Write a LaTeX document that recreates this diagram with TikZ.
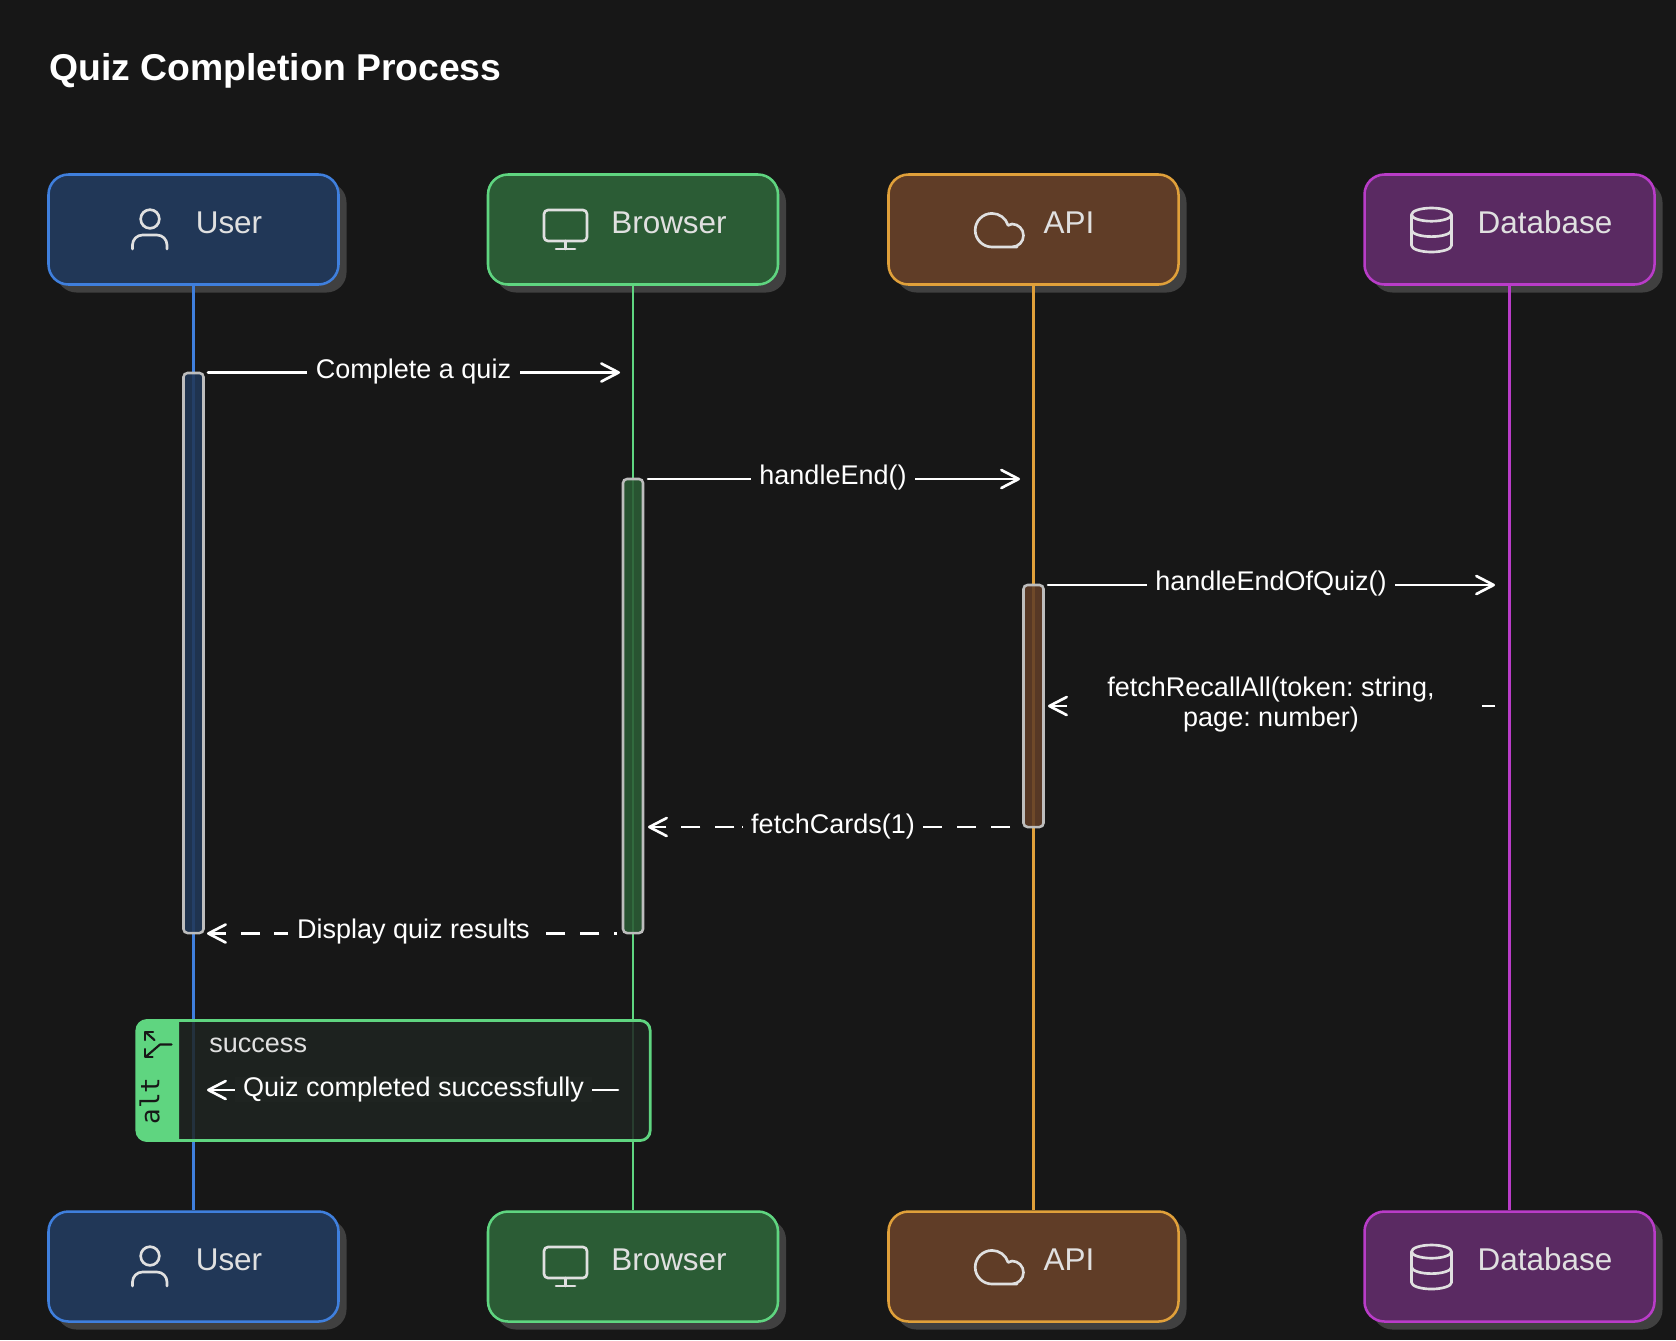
\documentclass[tikz,border=0pt]{standalone}
\usepackage{fontspec}
\setmainfont{Liberation Sans}
\newfontfamily\monofam{DejaVu Sans Mono}
\usetikzlibrary{arrows.meta}
\definecolor{bgc}{HTML}{171717}
\definecolor{shadowc}{HTML}{404040}
\definecolor{userfill}{HTML}{213757}
\definecolor{userline}{HTML}{3F7FDD}
\definecolor{browfill}{HTML}{2B5C35}
\definecolor{browline}{HTML}{5FD580}
\definecolor{apifill}{HTML}{603D27}
\definecolor{apiline}{HTML}{E0A03A}
\definecolor{dbfill}{HTML}{5A2A62}
\definecolor{dbline}{HTML}{B93CC8}
\definecolor{iconc}{HTML}{E0E0E0}
\definecolor{actc}{HTML}{BDBDBD}
\definecolor{altfill}{HTML}{1F2421}
\tikzset{
  actorbox/.style={draw=#1line,fill=#1fill,line width=1.9pt,rounded corners=15pt,
    minimum width=217.5pt,minimum height=82.5pt,inner sep=0pt},
  actorshadow/.style={fill=shadowc,rounded corners=15pt,minimum width=217.5pt,minimum height=82.5pt,inner sep=0pt},
  actortext/.style={anchor=base,text=iconc,inner sep=0pt,font=\fontsize{23.6pt}{26pt}\selectfont},
  lifeline/.style={draw=#1line,line width=2pt},
  actbox/.style={draw=actc,fill=#1fill,fill opacity=0.88,line width=1.9pt,rounded corners=3pt,minimum width=15pt,inner sep=0pt},
  msgline/.style={draw=white,line width=2pt,line cap=round},
  fwd/.style={msgline,-{Straight Barb[length=13pt,width=13.5pt,line width=2pt,round]}},
  msglabel/.style={anchor=base,text=white,inner sep=0pt,font=\fontsize{20.25pt}{22.5pt}\selectfont\frenchspacing},
  masklabel/.style={msglabel,fill=bgc,inner xsep=6.5pt},
  icon/.style={draw=iconc,line width=2pt,line cap=round,line join=round},
  alticon/.style={draw=bgc,line width=1.6pt,line cap=round,line join=round},
  usericon/.pic={
    \draw[icon] (150,219) circle [radius=7pt];
    \draw[icon] (132.5,249) -- (132.5,245) arc [start angle=180,end angle=90,radius=7.5pt] -- (157,235) arc [start angle=90,end angle=0,radius=7.5pt] -- (167,249);
  },
  browsericon/.pic={
    \draw[icon,rounded corners=3pt] (544,210) rectangle (587,241);
    \draw[icon] (565.5,241) -- (565.5,249) (556,249) -- (575,249);
  },
  cloudicon/.pic={
    \draw[icon] (1017,247) -- (992,247) arc [start angle=-90,end angle=-343.4,radius=12.6pt] -- (1012,224)
      arc [start angle=90,end angle=-90,radius=8.6pt] -- cycle;
  },
  dbicon/.pic={
    \draw[icon] (1431.5,214.6) ellipse [x radius=15pt,y radius=4.95pt];
    \draw[icon] (1411.5,214.6) -- (1411.5,245.4) arc [start angle=180,end angle=360,x radius=15pt,y radius=4.95pt] -- (1451.5,214.6);
    \draw[icon] (1411.5,230) arc [start angle=180,end angle=360,x radius=15pt,y radius=4.95pt];
  },
}
\begin{document}
\begin{tikzpicture}[x=0.75pt,y=-0.75pt]
\fill[bgc] (0,0) rectangle (1676,1340);
\useasboundingbox (0,0) rectangle (1676,1340);
\node[anchor=base west,inner sep=0pt,text=white,font=\bfseries\fontsize{28pt}{32pt}\selectfont] (title) at (49,80) {Quiz Completion Process};
% shadows
\foreach \cx in {193.5,633,1033.5,1509.5}{
  \node[actorshadow] at (\cx+8,237.5) {};
  \node[actorshadow] at (\cx+8,1274.5) {};
}
% actors
\node[actorbox=user] (utop) at (193.5,229.5) {};
\node[actorbox=brow] (btop) at (633,229.5) {};
\node[actorbox=api] (atop) at (1033.5,229.5) {};
\node[actorbox=db] (dtop) at (1509.5,229.5) {};
\node[actorbox=user] (ubot) at (193.5,1266.5) {};
\node[actorbox=brow] (bbot) at (633,1266.5) {};
\node[actorbox=api] (abot) at (1033.5,1266.5) {};
\node[actorbox=db] (dbot) at (1509.5,1266.5) {};
\foreach \dy/\tag in {0/t,1037/b}{
  \begin{scope}[yshift=-\dy*0.75pt]
    \pic {usericon}; \pic {browsericon}; \pic {cloudicon}; \pic {dbicon};
    \node[actortext] (ul\tag) at (229,233) {User};
    \node[actortext] (bl\tag) at (669,233) {Browser};
    \node[actortext] (al\tag) at (1069,233) {API};
    \node[actortext] (dl\tag) at (1545,233) {Database};
  \end{scope}
}
% lifelines
\draw[lifeline=user] (utop.south) -- (ubot.north);
\draw[lifeline=brow] (btop.south) -- (bbot.north);
\draw[lifeline=api] (atop.south) -- (abot.north);
\draw[lifeline=db] (dtop.south) -- (dbot.north);
% activations
\node[actbox=user,minimum height=420pt] (uact) at (193.5,653) {};
\node[actbox=brow,minimum height=340.5pt] (bact) at (633,706) {};
\node[actbox=api,minimum height=181.5pt] (aact) at (1033.5,706) {};
% alt
\node[draw=browline,fill=altfill,fill opacity=0.85,line width=2.1pt,rounded corners=7.5pt,minimum width=385pt,minimum height=90pt,inner sep=0pt] (altbox) at (393.5,1080.5) {};
\fill[browline] (179,1019.5) [rounded corners=7.5pt] -- (136.5,1019.5) -- (136.5,1141.5) [sharp corners] -- (179,1141.5) -- cycle;
\node[rotate=90,inner sep=0pt,text=bgc,font=\monofam\fontsize{19.5pt}{22pt}\selectfont] (alttext) at (149.5,1101) {alt};
\draw[alticon] (171.5,1044.5) -- (160,1044.5) -- (146,1056.5);
\draw[alticon] (154.5,1040) -- (146,1032.5);
\draw[alticon] (145,1049) -- (145,1057) -- (152.5,1057);
\draw[alticon] (153,1032) -- (145,1032) -- (145,1040);
\node[anchor=base west,inner sep=0pt,text=iconc,font=\fontsize{20.3pt}{24pt}\selectfont] (succ) at (209,1052) {success};
% messages
\coordinate (m1a) at (208,372.5); \coordinate (m1b) at (620,372.5);
\draw[fwd] (m1a) -- (m1b);
\node[masklabel] (m1l) at (413.5,378) {Complete a quiz};
\coordinate (m2a) at (648,479); \coordinate (m2b) at (1020,479);
\draw[fwd] (m2a) -- (m2b);
\node[masklabel] (m2l) at (833,484.5) {handleEnd()};
\coordinate (m3a) at (1048,585); \coordinate (m3b) at (1495,585);
\draw[fwd] (m3a) -- (m3b);
\node[masklabel] (m3l) at (1271,590.5) {handleEndOfQuiz()};
\coordinate (m4a) at (1495,706); \coordinate (m4b) at (1048,706);
\draw[fwd,line cap=butt,dash pattern=on 9.75pt off 311.25pt on 40pt] (m4a) -- (m4b);
\node[msglabel,anchor=center,align=center] (m4l) at (1271,705) {fetchRecallAll(token: string,\\page: number)};
\coordinate (m5a) at (1010,827); \coordinate (m5b) at (648,827);
\draw[fwd,line cap=butt,dash pattern=on 14.25pt off 11.25pt on 14.25pt off 11.25pt on 14.25pt off 135pt on 1.1pt off 5.3pt on 14.25pt off 11.25pt on 14.25pt off 11.25pt on 14.25pt] (m5a) -- (m5b);
\node[msglabel] (m5l) at (833,833) {fetchCards(1)};
\coordinate (m6a) at (617,933.5); \coordinate (m6b) at (207,933.5);
\draw[fwd,line cap=butt,dash pattern=on 1.9pt off 11.25pt on 14.25pt off 11.25pt on 14.25pt off 194pt on 10.5pt off 10.5pt on 14.25pt off 11.25pt on 14.25pt] (m6a) -- (m6b);
\node[msglabel] (m6l) at (413.5,938) {Display quiz results};
\coordinate (m7a) at (618,1090); \coordinate (m7b) at (207,1090);
\draw[fwd] (m7a) -- (m7b);
\node[msglabel,fill=altfill,inner xsep=6.5pt] (m7l) at (413.5,1096.5) {Quiz completed successfully};
\end{tikzpicture}
\end{document}
